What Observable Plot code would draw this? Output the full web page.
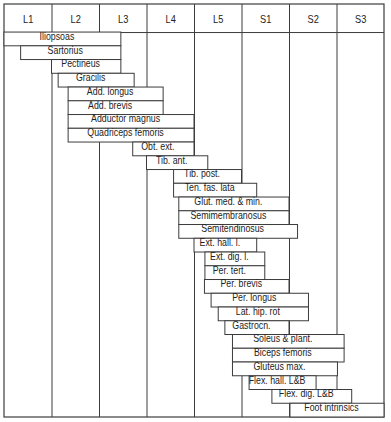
<!DOCTYPE html>
<html>
<head>
<meta charset="utf-8">
<script src="https://cdn.jsdelivr.net/npm/d3@7"></script>
<script src="https://cdn.jsdelivr.net/npm/@observablehq/plot@0.6"></script>
<style>
  html, body { margin: 0; padding: 0; background: #fff; }
  #chart svg { display: block; }
</style>
</head>
<body>
<div id="chart"></div>
<script>
const segments = ["L1", "L2", "L3", "L4", "L5", "S1", "S2", "S3"];
const muscles = ["Iliopsoas", "Sartorius", "Pectineus", "Gracilis", "Add. longus", "Add. brevis",
  "Adductor magnus", "Quadriceps femoris", "Obt. ext.", "Tib. ant.", "Tib. post.", "Ten. fas. lata",
  "Glut. med. & min.", "Semimembranosus", "Semitendinosus", "Ext. hall. l.", "Ext. dig. l.",
  "Per. tert.", "Per. brevis", "Per. longus", "Lat. hip. rot", "Gastrocn.", "Soleus & plant.",
  "Biceps femoris", "Gluteus max.", "Flex. hall. L&B", "Flex. dig. L&B", "Foot intrinsics"];
const starts = [0, 0.35, 1.0, 1.14, 1.35, 1.35, 1.35, 1.35, 2.71, 3.0, 3.57, 3.57, 3.68, 3.68, 3.68,
  4.0, 4.23, 4.23, 4.22, 4.36, 4.51, 4.65, 4.81, 4.81, 4.81, 5.16, 5.64, 6.02];
const ends = [2.46, 2.46, 2.46, 2.74, 3.35, 3.35, 4.0, 4.0, 4.0, 4.29, 5.0, 5.32, 6.0, 6.0, 6.18,
  5.32, 5.49, 5.49, 6.0, 6.41, 6.41, 6.0, 7.16, 7.16, 7.02, 6.57, 7.32, 8.0];

const rows = muscles.map((m, i) => ({name: m, row: i, start: starts[i], end: ends[i]}));
const cols = segments.map((s, i) => ({name: s, idx: i}));
const nSeg = segments.length;
const nRow = muscles.length;
const headTop = -2.04;
const lineColor = "#3c3c3c";
const font = "'Liberation Sans', Arial, sans-serif";

const chart = Plot.plot({
  width: 391,
  height: 422,
  margin: 0,
  x: {domain: [0, nSeg], range: [4, 384], axis: null},
  y: {domain: [headTop, nRow], range: [4, 417], axis: null},
  style: {fontFamily: font, background: "#fff"},
  marks: [
    Plot.ruleX(d3.range(1, nSeg), {x: d => d, y1: headTop, y2: nRow, stroke: lineColor, strokeWidth: 1}),
    Plot.ruleY([0], {x1: 0, x2: nSeg, stroke: lineColor, strokeWidth: 1}),
    Plot.rect([0], {x1: 0, x2: nSeg, y1: headTop, y2: nRow, fill: "none", stroke: lineColor, strokeWidth: 1.2}),
    Plot.text(cols, {x: d => d.idx + 0.5, y: -0.72, text: "name", fontSize: 11, fill: "#222"}),
    Plot.rect(rows, {x1: "start", x2: "end", y1: "row", y2: d => d.row + 1, fill: "#fff", stroke: lineColor, strokeWidth: 1}),
    Plot.text(rows, {x: d => (d.start + d.end) / 2, y: d => d.row + 0.5, text: "name", dx: -6, dy: 0.5, fontSize: 10.5, fill: "#222"})
  ]
});

// condense the lettering horizontally, like the narrow typeface of the original
d3.select(chart).selectAll("text").each(function () {
  let t = this.getAttribute("transform") || "";
  if (this.hasAttribute("x") || this.hasAttribute("y")) {
    const x = +this.getAttribute("x") || 0, y = +this.getAttribute("y") || 0;
    this.removeAttribute("x"); this.removeAttribute("y");
    t = `${t} translate(${x},${y})`;
  }
  this.setAttribute("transform", `${t} scale(0.84,1)`);
});

document.getElementById("chart").appendChild(chart);
</script>
</body>
</html>
